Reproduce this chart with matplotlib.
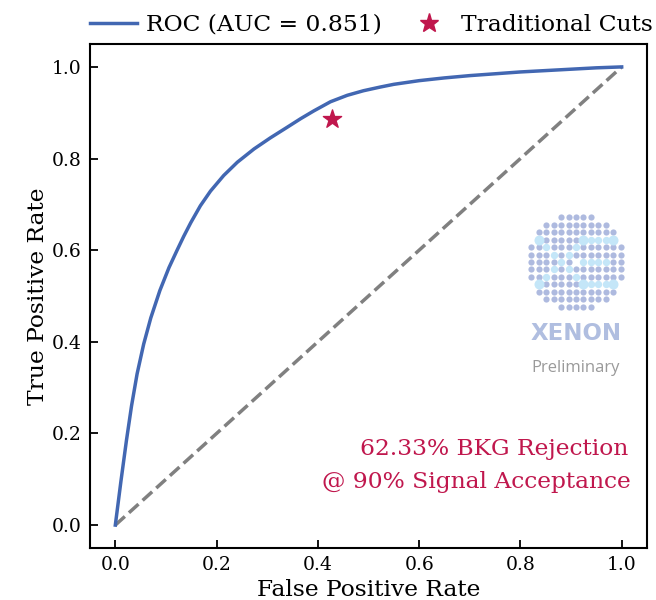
import matplotlib
matplotlib.use("Agg")
import matplotlib.pyplot as plt
from matplotlib.lines import Line2D

# ROC curve (FPR, TPR)
fpr = [0.0, 0.011, 0.022, 0.032, 0.043, 0.056, 0.070, 0.088, 0.106, 0.122,
       0.135, 0.149, 0.168, 0.188, 0.214, 0.241, 0.274, 0.306, 0.339, 0.366,
       0.392, 0.425, 0.458, 0.490, 0.523, 0.550, 0.600, 0.650, 0.700, 0.750,
       0.800, 0.850, 0.900, 0.950, 1.0]
tpr = [0.0, 0.095, 0.185, 0.260, 0.330, 0.395, 0.452, 0.512, 0.562, 0.600,
       0.630, 0.660, 0.697, 0.729, 0.763, 0.792, 0.821, 0.845, 0.868, 0.887,
       0.904, 0.924, 0.938, 0.948, 0.956, 0.962, 0.970, 0.976, 0.981, 0.985,
       0.989, 0.992, 0.995, 0.998, 1.0]
auc = 0.851

# working point of the traditional cut-based selection
cut_fpr = [0.428]
cut_tpr = [0.886]

bkg_rejection = 62.33
sig_acceptance = 90

ticks = [0.0, 0.2, 0.4, 0.6, 0.8, 1.0]

BLUE = '#4267b2'
RED = '#c0174d'
GREY = '#808080'

# logo: dots per row of the round grid, and the highlighted "XE" cells
ROW_COUNTS = [5, 9, 11, 11, 13, 13, 13, 13, 13, 11, 11, 9, 5]
HILITE_BIG = [(3, 1), (3, 7), (3, 11), (9, 1), (9, 7), (9, 11)]
HILITE = [(3, 8), (3, 9), (3, 10), (9, 8), (9, 9), (9, 10),
          (4, 2), (4, 6), (5, 3), (5, 5), (6, 4), (7, 3), (7, 5),
          (8, 2), (8, 6), (6, 7), (6, 8), (6, 9), (6, 10)]
EMPTY = [(6, 6)]

plt.rcParams['font.family'] = 'DejaVu Serif'
plt.rcParams['mathtext.fontset'] = 'dejavuserif'

fig = plt.figure(figsize=(6.56, 6.0), dpi=100)
ax = fig.add_axes([90 / 656, 52 / 600, 557 / 656, 504 / 600])

ax.plot(fpr, tpr, color=BLUE, lw=2.5, zorder=3)
ax.plot([0, 1], [0, 1], color=GREY, lw=2.5, ls='--', zorder=2)
ax.scatter(cut_fpr, cut_tpr, marker='*', s=190, color=RED, zorder=4)

ax.set_xlim(-0.05, 1.05)
ax.set_ylim(-0.05, 1.05)
ax.set_xticks(ticks)
ax.set_yticks(ticks)
ax.set_xticklabels([f'{t:.1f}' for t in ticks])
ax.set_yticklabels([f'{t:.1f}' for t in ticks])
ax.tick_params(direction='in', length=6, width=1.3, labelsize=13.5, pad=6)
for sp in ax.spines.values():
    sp.set_linewidth(1.5)
ax.set_xlabel('False Positive Rate', fontsize=16.8, labelpad=3)
ax.set_ylabel('True Positive Rate', fontsize=16.8, labelpad=2)

ax.text(0.966, 0.196, f'{bkg_rejection:.2f}% BKG Rejection',
        transform=ax.transAxes, ha='right', va='center', fontsize=16.8, color=RED)
ax.text(0.970, 0.131, f'@ {sig_acceptance}% Signal Acceptance',
        transform=ax.transAxes, ha='right', va='center', fontsize=16.8, color=RED)

handles = [Line2D([0], [0], color=BLUE, lw=2.5),
           Line2D([0], [0], marker='*', ls='none', color=RED, markersize=14)]
ax.legend(handles, [f'ROC (AUC = {auc:.3f})', 'Traditional Cuts'],
          loc='lower left', bbox_to_anchor=(0, 1.016), ncol=2, frameon=False,
          fontsize=16.8, borderaxespad=0, borderpad=0, handlelength=2.0,
          handletextpad=0.4, columnspacing=1.0)

# logo: dotted disc with XENON / Preliminary underneath
lax = fig.add_axes([521 / 656, (600 - 262 - 55) / 600, 110 / 656, 110 / 600])
lax.set_xlim(-7.4, 7.4)
lax.set_ylim(-7.4, 7.4)
lax.axis('off')
big = set(HILITE_BIG)
lit = set(HILITE)
gap = set(EMPTY)
gx, gy, lx, ly, bx, by = [], [], [], [], [], []
for r, n in enumerate(ROW_COUNTS):
    c0 = (13 - n) // 2
    for c in range(c0, c0 + n):
        x, y = c - 6, 6 - r
        if (r, c) in gap:
            continue
        if (r, c) in big:
            bx.append(x); by.append(y)
        elif (r, c) in lit:
            lx.append(x); ly.append(y)
        else:
            gx.append(x); gy.append(y)
lax.scatter(gx, gy, s=20, color='#aebadf', linewidths=0)
lax.scatter(lx, ly, s=28, color='#c4e6f8', linewidths=0)
lax.scatter(bx, by, s=52, color='#c4e6f8', linewidths=0)

fig.text(576 / 656, 1 - 334 / 600, 'XENON', ha='center', va='center',
         fontsize=16.5, fontweight='bold', color='#b0bee0', family='DejaVu Sans')
fig.text(576 / 656, 1 - 368 / 600, 'Preliminary', ha='center', va='center',
         fontsize=12, color='#9a9a9a', family='Open Sans')

fig.savefig('out.png', dpi=100)
